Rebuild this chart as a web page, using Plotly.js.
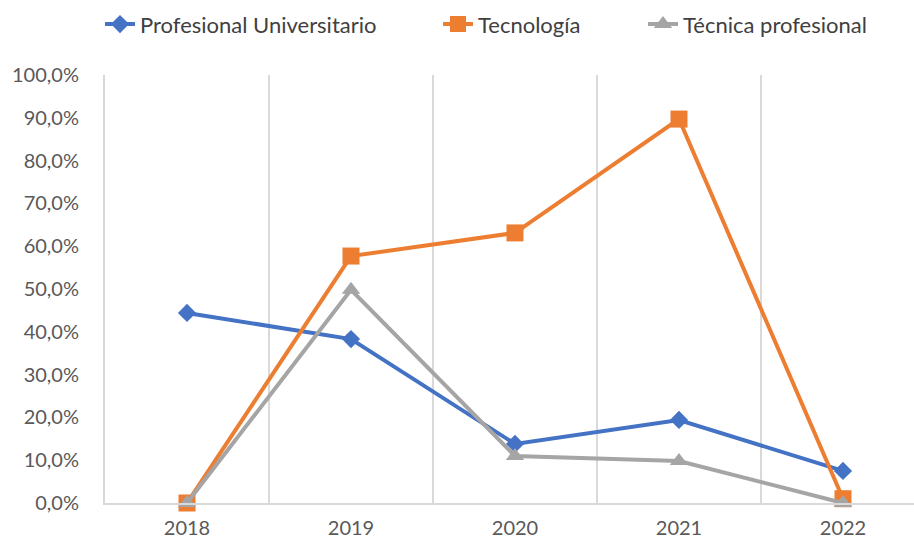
<!DOCTYPE html>
<html><head><meta charset="utf-8">
<script src="https://cdn.plot.ly/plotly-3.0.1.min.js"></script>
<style>html,body{margin:0;padding:0;background:#fff}</style>
</head><body><div id="chart" style="width:914px;height:542px"></div>
<script>
const years = ["2018", "2019", "2020", "2021", "2022"];
const profesionalUniversitario = [0.444, 0.383, 0.138, 0.194, 0.075];
const tecnologia = [0.0, 0.577, 0.631, 0.897, 0.010];
const tecnicaProfesional = [0.0, 0.498, 0.110, 0.098, 0.0];
const seriesNames = ["Profesional Universitario", "Tecnología", "Técnica profesional"];

const idx = years.map((_, i) => i);
const mk = (y, name, color, symbol, size, leg) => ({
  x: idx, y: y, name: name, type: 'scatter', mode: 'lines+markers',
  line: {color: color, width: 4},
  marker: {color: color, symbol: symbol, size: size},
  cliponaxis: false, legend: leg
});
const data = [
  mk(profesionalUniversitario, seriesNames[0], '#4472C4', 'diamond', 14, 'legend'),
  mk(tecnologia, seriesNames[1], '#ED7D31', 'square', 17, 'legend2'),
  mk(tecnicaProfesional, seriesNames[2], '#A5A5A5', 'triangle-up', 16, 'legend3')
];
const legBase = (x) => ({orientation: 'h', x: x, xref: 'paper', xanchor: 'left', y: 0.994, yref: 'container', yanchor: 'top',
  font: {size: 22, color: '#404040'}, bgcolor: 'rgba(0,0,0,0)'});
const toPaper = (px) => (px - 105) / (914 - 105);
const layout = {
  width: 914, height: 542,
  margin: {l: 105, r: 0, t: 75, b: 39},
  separators: ',.',
  paper_bgcolor: '#fff', plot_bgcolor: '#fff',
  font: {family: 'Lato, "Open Sans", sans-serif', color: '#595959', size: 17},
  showlegend: true,
  legend: legBase(toPaper(100)),
  legend2: legBase(toPaper(438)),
  legend3: legBase(toPaper(643)),
  xaxis: {
    range: [-0.5, 4.433], tickmode: 'array', tickvals: idx, ticktext: years,
    showgrid: false, zeroline: false, showline: true, linecolor: '#d9d9d9', linewidth: 2,
    ticks: '', ticklabelstandoff: 6, tickfont: {size: 20, color: '#595959'},
    minor: {tick0: 0.5, dtick: 1, showgrid: true, gridcolor: '#d9d9d9', gridwidth: 2, ticks: ''}
  },
  yaxis: {
    range: [0, 1], dtick: 0.1, tickformat: '.1%', showgrid: false, zeroline: false,
    showline: true, linecolor: '#d9d9d9', linewidth: 2, ticks: '',
    ticklabelstandoff: 20, tickfont: {size: 20, color: '#595959'}
  }
};
Plotly.newPlot('chart', data, layout, {displayModeBar: false, staticPlot: true});
</script></body></html>
